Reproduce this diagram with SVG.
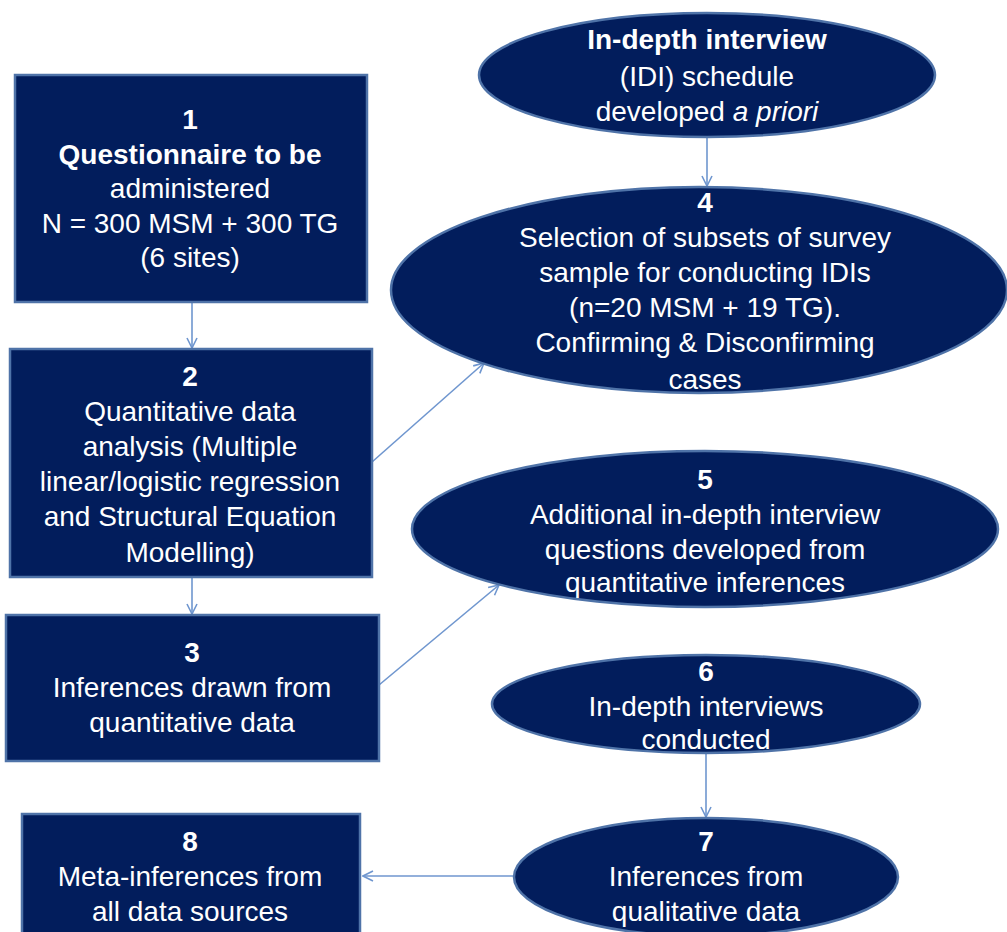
<svg xmlns="http://www.w3.org/2000/svg" width="1007" height="932" viewBox="0 0 1007 932">
<style>
.n{fill:#021d5c;stroke:#4f73a8;stroke-width:2.5}
.t{font-family:"Liberation Sans",Arial,sans-serif;font-size:28px;fill:#ffffff;text-anchor:middle}
.b{font-weight:bold}
.c{stroke:#6f96cf;stroke-width:1.6;fill:none}
</style>
<defs>
<marker id="a" viewBox="0 0 12 12" refX="11" refY="6" markerWidth="12" markerHeight="12" markerUnits="userSpaceOnUse" orient="auto">
<path d="M1,1 L11,6 L1,11" fill="none" stroke="#6f96cf" stroke-width="1.6"/>
</marker>
</defs>
<rect width="1007" height="932" fill="#ffffff"/>
<g id="connectors">
<line class="c" x1="192" y1="302" x2="192" y2="348" marker-end="url(#a)"/>
<line class="c" x1="192" y1="577" x2="192" y2="614" marker-end="url(#a)"/>
<line class="c" x1="707" y1="137" x2="707" y2="186" marker-end="url(#a)"/>
<line class="c" x1="372" y1="462" x2="484" y2="363" marker-end="url(#a)"/>
<line class="c" x1="379" y1="685" x2="499" y2="585" marker-end="url(#a)"/>
<line class="c" x1="706" y1="753" x2="706" y2="817" marker-end="url(#a)"/>
<line class="c" x1="514" y1="876" x2="363" y2="876" marker-end="url(#a)"/>
</g>
<g id="node1">
<rect class="n" x="15" y="75" width="352" height="227"/>
<text class="t b" x="190" y="129">1</text>
<text class="t b" x="190" y="164">Questionnaire  to be</text>
<text class="t" x="190" y="198">administered</text>
<text class="t" x="190" y="233">N = 300 MSM + 300 TG</text>
<text class="t" x="190" y="267">(6 sites)</text>
</g>
<g id="node2">
<rect class="n" x="10" y="349" width="362" height="228"/>
<text class="t b" x="190" y="386">2</text>
<text class="t" x="190" y="421">Quantitative data</text>
<text class="t" x="190" y="456">analysis (Multiple</text>
<text class="t" x="190" y="491">linear/logistic regression</text>
<text class="t" x="190" y="526">and Structural Equation</text>
<text class="t" x="190" y="562">Modelling)</text>
</g>
<g id="node3">
<rect class="n" x="6" y="615" width="373" height="146"/>
<text class="t b" x="192" y="662">3</text>
<text class="t" x="192" y="697">Inferences drawn from</text>
<text class="t" x="192" y="732">quantitative data</text>
</g>
<g id="nodeIDI">
<ellipse class="n" cx="707" cy="75" rx="228" ry="62"/>
<text class="t b" x="707" y="49">In-depth interview</text>
<text class="t" x="707" y="86">(IDI) schedule</text>
<text class="t" x="707" y="121">developed <tspan font-style="italic">a priori</tspan></text>
</g>
<g id="node4">
<ellipse class="n" cx="699" cy="290" rx="308" ry="103"/>
<text class="t b" x="705" y="212">4</text>
<text class="t" x="705" y="247">Selection of subsets of survey</text>
<text class="t" x="705" y="282">sample for  conducting IDIs</text>
<text class="t" x="705" y="317">(n=20 MSM + 19 TG).</text>
<text class="t" x="705" y="352">Confirming &amp; Disconfirming</text>
<text class="t" x="705" y="389">cases</text>
</g>
<g id="node5">
<ellipse class="n" cx="705" cy="529" rx="293" ry="78"/>
<text class="t b" x="705" y="489">5</text>
<text class="t" x="705" y="524">Additional in-depth interview</text>
<text class="t" x="705" y="559">questions developed from</text>
<text class="t" x="705" y="592">quantitative inferences</text>
</g>
<g id="node6">
<ellipse class="n" cx="706" cy="704" rx="214" ry="49"/>
<text class="t b" x="706" y="681">6</text>
<text class="t" x="706" y="716">In-depth  interviews</text>
<text class="t" x="706" y="749">conducted</text>
</g>
<g id="node7">
<ellipse class="n" cx="706" cy="877" rx="192" ry="59"/>
<text class="t b" x="706" y="851">7</text>
<text class="t" x="706" y="886">Inferences from</text>
<text class="t" x="706" y="921">qualitative data</text>
</g>
<g id="node8">
<rect class="n" x="22" y="814" width="338" height="130"/>
<text class="t b" x="190" y="851">8</text>
<text class="t" x="190" y="886">Meta-inferences from</text>
<text class="t" x="190" y="921">all data sources</text>
</g>
</svg>
